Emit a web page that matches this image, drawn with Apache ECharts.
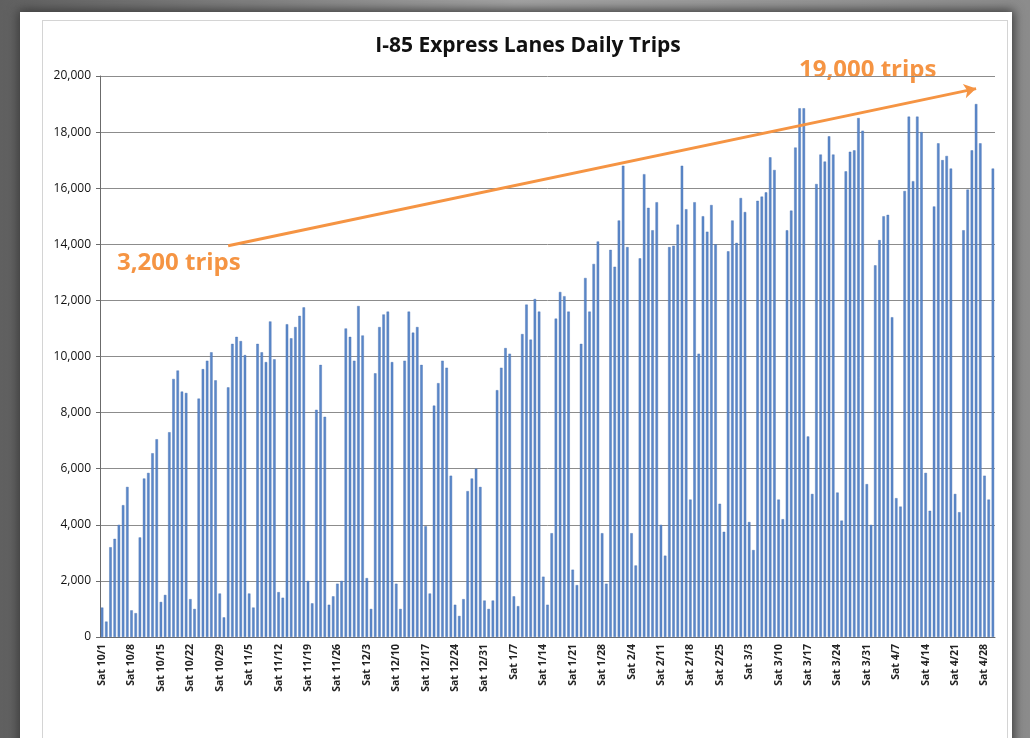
<!DOCTYPE html>
<html>
<head>
<meta charset="utf-8">
<script src="https://cdn.jsdelivr.net/npm/echarts@6/dist/echarts.min.js"></script>
<style>
  html, body { margin: 0; padding: 0; }
  body { width: 1030px; height: 738px; overflow: hidden; position: relative;
         background: linear-gradient(to right, #606060, #a4a4a4 50%, #8c8c8c); }
  #card { position: absolute; left: 20px; top: 12px; width: 992px; height: 760px;
          background: #fff; box-shadow: 0 0 10px 2px #3a3a3a; }
  #inner { position: absolute; left: 42px; top: 20px; width: 964px; height: 760px;
           border: 1px solid #d4d4d4; background: #fff; }
  #chart { position: absolute; left: 0; top: 0; width: 1030px; height: 738px; }
</style>
</head>
<body>
<div id="card"></div>
<div id="inner"></div>
<div id="chart"></div>
<script>
  // daily trips, 1 Oct 2011 .. 30 Apr 2012
  var octTrips = [1050, 550, 3200, 3500, 4000, 4700, 5350, 950, 850, 3550, 5650, 5850, 6550, 7050,
    1250, 1500, 7300, 9200, 9500, 8750, 8700, 1350, 1000, 8500, 9550, 9850, 10150, 9150, 1550, 700, 8900];
  var novTrips = [10450, 10700, 10550, 10050, 1550, 1050, 10450, 10150, 9800, 11250, 9900, 1600, 1400,
    11150, 10650, 11050, 11450, 11750, 2000, 1200, 8100, 9700, 7850, 1150, 1450, 1900, 2000, 11000, 10700, 9850];
  var decTrips = [11800, 10750, 2100, 1000, 9400, 11050, 11500, 11600, 9800, 1900, 1000, 9850, 11600,
    10850, 11050, 9700, 3950, 1550, 8250, 9050, 9850, 9600, 5750, 1150, 750, 1350, 5200, 5650, 6000, 5350, 1300];
  var janTrips = [1000, 1300, 8800, 9600, 10300, 10100, 1450, 1100, 10800, 11850, 10600, 12050, 11600,
    2150, 1150, 3700, 11350, 12300, 12150, 11600, 2400, 1850, 10450, 12800, 11600, 13300, 14100, 3700, 1900, 13800, 13200];
  var febTrips = [14850, 16800, 13900, 3700, 2550, 13500, 16500, 15300, 14500, 15500, 4000, 2900, 13900,
    13950, 14700, 16800, 15250, 4900, 15500, 10100, 15000, 14450, 15400, 14000, 4750, 3750, 13750, 14850, 14050];
  var marTrips = [15650, 15150, 4100, 3100, 15550, 15700, 15850, 17100, 16650, 4900, 4200, 14500, 15200,
    17450, 18850, 18850, 7150, 5100, 16150, 17200, 16950, 17850, 17200, 5150, 4150, 16600, 17300, 17350, 18500, 18050, 5450];
  var aprTrips = [4000, 13250, 14150, 15000, 15050, 11400, 4950, 4650, 15900, 18550, 16250, 18550, 18000,
    5850, 4500, 15350, 17600, 17000, 17150, 16700, 5100, 4450, 14500, 15950, 17350, 19000, 17600, 5750, 4900, 16700];

  var monthNums = [10, 11, 12, 1, 2, 3, 4];
  var monthTrips = [octTrips, novTrips, decTrips, janTrips, febTrips, marTrips, aprTrips];
  var dayNames = ['Sat', 'Sun', 'Mon', 'Tue', 'Wed', 'Thu', 'Fri']; // 10/1/2011 was a Saturday

  var yTicks = [0, 2000, 4000, 6000, 8000, 10000, 12000, 14000, 16000, 18000, 20000];

  var days = [];
  var trips = [];
  monthTrips.forEach(function (arr, mi) {
    arr.forEach(function (v, di) {
      days.push(dayNames[days.length % 7] + ' ' + monthNums[mi] + '/' + (di + 1));
      trips.push(v);
    });
  });

  var orange = '#f59443';
  var font = 'Open Sans';

  var myChart = echarts.init(document.getElementById('chart'));
  var option = {
    backgroundColor: 'transparent',
    animation: false,
    title: {
      text: 'I-85 Express Lanes Daily Trips',
      left: 523,
      textAlign: 'center',
      top: 31,
      textStyle: {fontFamily: font, fontSize: 21, fontWeight: 'bold', color: '#111'}
    },
    grid: {left: 100, right: 35, top: 76, bottom: 101},
    xAxis: {
      type: 'category',
      data: days,
      axisLine: {lineStyle: {color: '#6b6b6b'}},
      axisTick: {interval: 0, length: 4, lineStyle: {color: '#8a8a8a'}},
      axisLabel: {
        interval: 6,
        rotate: 90,
        fontFamily: font,
        fontSize: 10.5,
        fontWeight: 'bold',
        color: '#222',
        margin: 7
      }
    },
    yAxis: {
      type: 'value',
      min: 0,
      max: 20000,
      interval: 2000,
      axisLine: {show: true, lineStyle: {color: '#6b6b6b'}},
      axisTick: {show: true, length: 4, lineStyle: {color: '#6b6b6b'}},
      splitLine: {lineStyle: {color: '#8c8c8c', width: 1}},
      axisLabel: {
        fontFamily: font,
        fontSize: 12,
        color: '#111',
        margin: 9,
        formatter: function (v) {
          return yTicks.indexOf(v) >= 0 ? v.toLocaleString('en-US') : '';
        }
      }
    },
    series: [{
      type: 'bar',
      data: trips,
      barWidth: 2.5,
      itemStyle: {color: '#5b88c9', borderColor: '#4670b0', borderWidth: 0.4},
      markLine: {
        silent: true,
        symbol: ['none', 'arrow'],
        symbolSize: [11, 12],
        label: {show: false},
        lineStyle: {color: orange, width: 3, type: 'solid'},
        data: [[{coord: [30, 13950]}, {coord: [208, 19550]}]]
      }
    }],
    graphic: [
      {
        type: 'text', left: 117, top: 251,
        style: {text: '3,200 trips', fontFamily: font, fontSize: 24, fontWeight: 'bold', fill: orange}
      },
      {
        type: 'text', left: 799, top: 58,
        style: {text: '19,000 trips', fontFamily: font, fontSize: 24, fontWeight: 'bold', fill: orange}
      }
    ]
  };
  myChart.setOption(option);
</script>
</body>
</html>
